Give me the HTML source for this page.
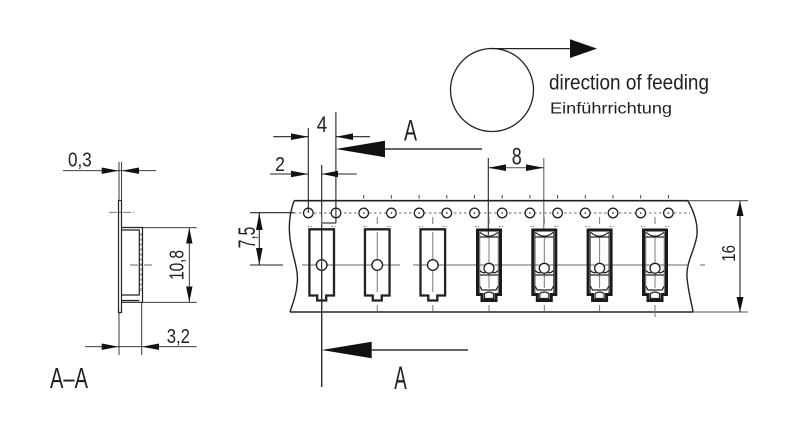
<!DOCTYPE html>
<html><head><meta charset="utf-8"><style>
html,body{margin:0;padding:0;background:#fff;}
svg{display:block;}
text{font-family:"Liberation Sans",sans-serif;fill:#222;}
</style></head><body>
<svg width="800" height="429" viewBox="0 0 800 429" xmlns="http://www.w3.org/2000/svg">
<rect width="800" height="429" fill="#fff"/>

<!-- Feeding direction symbol -->
<circle cx="492" cy="90" r="41.5" fill="none" stroke="#222" stroke-width="1.3"/>
<line x1="492" y1="48.6" x2="572" y2="48.6" stroke="#222" stroke-width="1.3"/>
<polygon points="570,39.3 597,48.6 570,58" fill="#111"/>
<text x="549" y="89.3" font-size="21" textLength="160" lengthAdjust="spacingAndGlyphs" fill="#555">direction of feeding</text>
<text x="550" y="113.3" font-size="16" textLength="122" lengthAdjust="spacingAndGlyphs" fill="#333">Einführrichtung</text>

<!-- Section A arrows -->
<polygon points="335.7,149 385,140.7 385,157.3" fill="#111"/>
<line x1="385" y1="149" x2="482" y2="149" stroke="#333" stroke-width="1.6"/>
<text x="404" y="140.7" font-size="30" textLength="13" lengthAdjust="spacingAndGlyphs">A</text>
<polygon points="321.7,350 371.7,341.7 371.7,358.3" fill="#111"/>
<line x1="371.7" y1="350" x2="468" y2="350" stroke="#333" stroke-width="1.6"/>
<text x="394.3" y="389" font-size="32" textLength="12.5" lengthAdjust="spacingAndGlyphs">A</text>

<g stroke="#222" stroke-width="1.1" fill="none">
  <!-- extension lines at top -->
  <line x1="308.3" y1="128" x2="308.3" y2="213"/>
  <line x1="335.9" y1="112" x2="335.9" y2="223"/>
  <line x1="321.7" y1="165" x2="321.7" y2="387"/>
  <line x1="321.7" y1="223" x2="335.9" y2="223"/>
  <!-- dim 4 -->
  <line x1="273.3" y1="136.7" x2="308.3" y2="136.7"/>
  <line x1="335.9" y1="136.7" x2="370" y2="136.7"/>
  <!-- dim 2 -->
  <line x1="270" y1="174" x2="308.3" y2="174"/>
  <line x1="321.7" y1="174" x2="356.7" y2="174"/>
  <!-- dim 8 -->
  <line x1="488.3" y1="158" x2="488.3" y2="235"/>
  <line x1="543.8" y1="158" x2="543.8" y2="229" stroke="#666"/>
  <line x1="488.3" y1="167.7" x2="543.8" y2="167.7" stroke="#666"/>
  <!-- dim 7,5 -->
  <line x1="250" y1="212.7" x2="294" y2="212.7"/>
  <line x1="250" y1="265" x2="283" y2="265"/>
  <line x1="259.3" y1="213" x2="259.3" y2="265"/>
  <!-- dim 16 -->
  <line x1="688" y1="200.7" x2="748" y2="200.7" stroke="#555"/>
  <line x1="693" y1="312" x2="748" y2="312" stroke="#555"/>
  <line x1="740" y1="201" x2="740" y2="312"/>
</g>
<g fill="#111">
  <polygon points="308.3,136.7 291,133.4 291,140"/>
  <polygon points="335.9,136.7 353,133.4 353,140"/>
  <polygon points="308.3,174 291,170.7 291,177.3"/>
  <polygon points="321.7,174 338,170.7 338,177.3"/>
  <polygon points="488.3,167.7 506,164.4 506,171"/>
  <polygon points="543.8,167.7 526,164.4 526,171"/>
  <polygon points="259.3,213 256,230 262.6,230"/>
  <polygon points="259.3,265 256,248 262.6,248"/>
  <polygon points="740,201 736.5,216 743.5,216"/>
  <polygon points="740,312 736.5,297 743.5,297"/>
</g>
<text x="316.7" y="132" font-size="22" textLength="10.5" lengthAdjust="spacingAndGlyphs">4</text>
<text x="275" y="171" font-size="20" textLength="10" lengthAdjust="spacingAndGlyphs">2</text>
<text x="511.7" y="164.3" font-size="24" textLength="10" lengthAdjust="spacingAndGlyphs">8</text>
<text transform="translate(255,248.3) rotate(-90)" font-size="24" textLength="21.6" lengthAdjust="spacingAndGlyphs">7,5</text>
<text transform="translate(735,261.7) rotate(-90)" font-size="18" textLength="16.7" lengthAdjust="spacingAndGlyphs">16</text>

<!-- Tape -->
<g stroke="#222" stroke-width="1.6" fill="none">
  <line x1="294" y1="200.7" x2="688" y2="200.7"/>
  <line x1="290" y1="312" x2="693" y2="312"/>
  <path d="M294,201 C289,215 288,230 291,245 C294,260 299,272 297,285 C296,297 292,305 290,312" stroke-width="1.4"/>
  <path d="M688,201 C693,210 698,222 697,235 C695,250 686,262 687,277 C688,292 692,304 693,312" stroke-width="1.4"/>
</g>
<!-- centerlines -->
<g stroke="#666" stroke-width="1" fill="none">
  <line x1="294" y1="213" x2="690" y2="213" stroke-dasharray="2.5,2.5"/>
  <line x1="302" y1="265" x2="400" y2="265"/>
  <line x1="413" y1="265" x2="688" y2="265"/>
  <line x1="700" y1="265" x2="705" y2="265"/>
</g>
<!-- ticks above tape -->
<g stroke="#444" stroke-width="1">
  <line x1="363.7" y1="195" x2="363.7" y2="198.5"/>
  <line x1="391.4" y1="195" x2="391.4" y2="198.5"/>
  <line x1="419.1" y1="195" x2="419.1" y2="198.5"/>
  <line x1="446.8" y1="195" x2="446.8" y2="198.5"/>
  <line x1="474.5" y1="195" x2="474.5" y2="198.5"/>
  <line x1="502.2" y1="195" x2="502.2" y2="198.5"/>
  <line x1="529.9" y1="195" x2="529.9" y2="198.5"/>
  <line x1="557.6" y1="195" x2="557.6" y2="198.5"/>
  <line x1="585.3" y1="195" x2="585.3" y2="198.5"/>
  <line x1="613" y1="195" x2="613" y2="198.5"/>
  <line x1="640.7" y1="195" x2="640.7" y2="198.5"/>
  <line x1="668.4" y1="195" x2="668.4" y2="198.5"/>
</g>
<!-- sprocket holes -->
<g stroke="#222" stroke-width="1.3" fill="#fff">
  <circle cx="308.3" cy="213" r="4.8"/>
  <circle cx="336" cy="213" r="4.8"/>
  <circle cx="363.7" cy="213" r="4.8"/>
  <circle cx="391.4" cy="213" r="4.8"/>
  <circle cx="419.1" cy="213" r="4.8"/>
  <circle cx="446.8" cy="213" r="4.8"/>
  <circle cx="474.5" cy="213" r="4.8"/>
  <circle cx="502.2" cy="213" r="4.8"/>
  <circle cx="529.9" cy="213" r="4.8"/>
  <circle cx="557.6" cy="213" r="4.8"/>
  <circle cx="585.3" cy="213" r="4.8"/>
  <circle cx="613" cy="213" r="4.8"/>
  <circle cx="640.7" cy="213" r="4.8"/>
  <circle cx="668.4" cy="213" r="4.8"/>
</g>
<g stroke="#222" stroke-width="1.1">
  <line x1="308.3" y1="207" x2="308.3" y2="213"/>
  <line x1="335.9" y1="207" x2="335.9" y2="218"/>
</g>
<g fill="#444">
  <circle cx="363.7" cy="213" r="0.9"/><circle cx="391.4" cy="213" r="0.9"/>
  <circle cx="419.1" cy="213" r="0.9"/><circle cx="446.8" cy="213" r="0.9"/>
  <circle cx="474.5" cy="213" r="0.9"/><circle cx="502.2" cy="213" r="0.9"/>
  <circle cx="529.9" cy="213" r="0.9"/><circle cx="557.6" cy="213" r="0.9"/>
  <circle cx="585.3" cy="213" r="0.9"/><circle cx="613" cy="213" r="0.9"/>
  <circle cx="640.7" cy="213" r="0.9"/><circle cx="668.4" cy="213" r="0.9"/>
</g>

<!-- Empty pockets -->
<defs>
  <g id="empty">
    <g stroke="#777" stroke-width="1" fill="none">
      <line x1="0" y1="217" x2="0" y2="224"/>
      <line x1="0" y1="232" x2="0" y2="259.5"/>
      <line x1="0" y1="270.5" x2="0" y2="292"/>
      <line x1="0" y1="305" x2="0" y2="311.5"/>
      <line x1="-14" y1="226.5" x2="-10" y2="226.5" stroke-dasharray="1.5,1.5"/>
      <line x1="10" y1="226.5" x2="14" y2="226.5" stroke-dasharray="1.5,1.5"/>
    </g>
    <path d="M-12.3,229.3 H12.3 V295.5 H4.5 V300.5 H-4.5 V295.5 H-12.3 Z" fill="none" stroke="#222" stroke-width="2.3"/>
    <circle cx="0" cy="265" r="5.3" fill="#fff" stroke="#222" stroke-width="1.4"/>
  </g>
  <g id="full">
    <g stroke="#777" stroke-width="1" fill="none">
      <line x1="0" y1="217" x2="0" y2="224"/>
      <line x1="0" y1="237" x2="0" y2="263"/>
      <line x1="0" y1="274" x2="0" y2="288"/>
      <line x1="0" y1="305" x2="0" y2="311.5"/>
      <line x1="-14" y1="226.5" x2="-10" y2="226.5" stroke-dasharray="1.5,1.5"/>
      <line x1="10" y1="226.5" x2="14" y2="226.5" stroke-dasharray="1.5,1.5"/>
      <line x1="-9.3" y1="232" x2="-9.3" y2="293" stroke="#555"/>
      <line x1="9.3" y1="232" x2="9.3" y2="293" stroke="#555"/>
    </g>
    <path d="M-11.5,230 H11.5 V294.5 H7 V300.5 H-7 V294.5 H-11.5 Z" fill="none" stroke="#1a1a1a" stroke-width="3"/>
    <g stroke="#222" stroke-width="1.2" fill="none">
      <path d="M-9,232.3 Q0,240 9,232.3"/>
      <line x1="-9.3" y1="237" x2="9.3" y2="237"/>
      <path d="M-9.3,270.5 Q-5,274.5 -2,271.5"/>
      <path d="M9.3,270.5 Q5,274.5 2,271.5"/>
      <line x1="-9.3" y1="275" x2="9.3" y2="275"/>
      <path d="M-9.3,286 L-7,290 H7 L9.3,286"/>
      <path d="M-4.5,298.5 V293.5 Q0,290.5 4.5,293.5 V298.5 Z"/>
    </g>
    <circle cx="0" cy="268.3" r="5" fill="#fff" stroke="#222" stroke-width="1.3"/>
  </g>
</defs>
<use href="#empty" x="321.7"/>
<use href="#empty" x="377.25"/>
<use href="#empty" x="432.8"/>
<use href="#full" x="489"/>
<use href="#full" x="544.3"/>
<use href="#full" x="599.6"/>
<use href="#full" x="655"/>
<line x1="655" y1="311" x2="655" y2="317" stroke="#777" stroke-width="1"/>
<line x1="321.7" y1="229" x2="321.7" y2="387" stroke="#222" stroke-width="1.1"/>

<!-- Section A-A view -->
<g stroke="#222" stroke-width="0.9" fill="none">
  <line x1="119" y1="162" x2="119" y2="201"/>
  <line x1="121.6" y1="162" x2="121.6" y2="201"/>
  <line x1="119" y1="312" x2="119" y2="355"/>
  <line x1="141.7" y1="302.3" x2="141.7" y2="355"/>
  <line x1="63" y1="170.7" x2="156" y2="170.7"/>
  <line x1="85" y1="346.7" x2="196.7" y2="346.7"/>
  <line x1="141.7" y1="227.7" x2="196.7" y2="227.7"/>
  <line x1="141.7" y1="302.3" x2="196.7" y2="302.3"/>
  <line x1="189.3" y1="227.7" x2="189.3" y2="302.3"/>
</g>
<g stroke="#222" stroke-width="1.2" fill="none">
  <rect x="118.5" y="200.5" width="3" height="112"/>
  <path d="M121.5,227.5 H142.5 V302.3 H121.5"/>
  <path d="M121.5,230 H139.3 V295 H121.5"/>
  <line x1="121.5" y1="300.5" x2="139.3" y2="300.5"/>
</g>
<line x1="141" y1="233" x2="141" y2="293" stroke="#555" stroke-width="0.8" stroke-dasharray="3,2"/>
<g stroke="#666" stroke-width="0.9">
  <line x1="109" y1="212.3" x2="134" y2="212.3" stroke-dasharray="8,2,2,2"/>
  <line x1="130" y1="265" x2="154" y2="265" stroke-dasharray="8,2,2,2"/>
</g>
<g fill="#111">
  <polygon points="119,170.7 101.7,167.5 101.7,173.9"/>
  <polygon points="121.6,170.7 139,167.5 139,173.9"/>
  <polygon points="119,346.7 101.7,343.5 101.7,349.9"/>
  <polygon points="141.7,346.7 159,343.5 159,349.9"/>
  <polygon points="189.3,227.7 186.1,243.5 192.5,243.5"/>
  <polygon points="189.3,302.3 186.1,286.5 192.5,286.5"/>
</g>
<text x="68" y="166.7" font-size="20.5" textLength="23.7" lengthAdjust="spacingAndGlyphs">0,3</text>
<text transform="translate(183.3,280) rotate(-90)" font-size="20.5" textLength="30" lengthAdjust="spacingAndGlyphs">10,8</text>
<text x="166.7" y="343" font-size="20.5" textLength="23.3" lengthAdjust="spacingAndGlyphs">3,2</text>
<text x="50" y="388" font-size="29" textLength="38" lengthAdjust="spacingAndGlyphs">A–A</text>
</svg>
</body></html>
